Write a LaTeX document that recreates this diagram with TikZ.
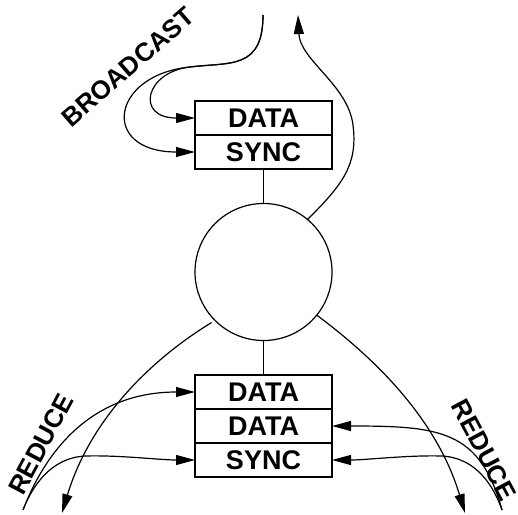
\documentclass[tikz,border=0pt]{standalone}
\usepackage{fontspec}
\setmainfont{Liberation Sans}
\usetikzlibrary{arrows.meta,positioning}
\tikzset{
  net/cell/.style={draw, line width=1.2pt, outer sep=0pt, inner sep=0pt, minimum width=137pt, minimum height=34pt, font=\fontsize{27}{30}\selectfont\bfseries},
  net/hub/.style={draw, circle, line width=1.2pt, outer sep=0pt, inner sep=0pt, minimum size=137pt},
  net/line/.style={line width=1.2pt},
  net/flow/.style={line width=1.2pt, -{Triangle[length=19pt,width=10pt]}},
  net/tag/.style={font=\fontsize{26}{30}\selectfont\bfseries, inner sep=0pt}
}

\begin{document}
\begin{tikzpicture}[x=1pt, y=-1pt]
\useasboundingbox (0,0) rectangle (518,514);
\node[net/cell] (bdata) at (263.5,118) {DATA};
\node[net/cell, below=0pt of bdata] (bsync) {SYNC};
\node[net/hub] (hub) at (263.5,272) {};
\node[net/cell] (rdata) at (263.5,392) {DATA};
\node[net/cell, below=0pt of rdata] (rdata2) {DATA};
\node[net/cell, below=0pt of rdata2] (rsync) {SYNC};
\node[net/tag, rotate=41] (btag) at (128,67) {BROADCAST};
\node[net/tag, rotate=62] (ltag) at (41,444) {REDUCE};
\node[net/tag, rotate=-62] (rtag) at (484,450) {REDUCE};
\coordinate (bin) at (263,15);
\coordinate (bsplit) at (190,67);
\coordinate (bout) at (298,15);
\coordinate (lin) at (23,510);
\coordinate (lout) at (62,513);
\coordinate (rin) at (502,510);
\coordinate (rout) at (465,513);
\draw[net/line] (bsync.south) -- (hub.north);
\draw[net/line] (hub.south) -- (rdata.north);
\draw[net/flow] (bin) .. controls +(0,55) and +(40,-5) .. (bsplit) .. controls +(-45,5) and +(-60,0) .. (bdata.west);
\draw[net/flow] (bin) .. controls +(0,55) and +(40,-5) .. (bsplit) .. controls +(-80,8) and +(-95,0) .. (bsync.west);
\draw[net/flow] (hub.50) .. controls +(35,-35) and +(5,40) .. (353,125) .. controls +(-5,-40) and +(2,45) .. (bout);
\draw[net/flow, shorten <=4pt] (hub.225) .. controls (150,360) and (90,420) .. (lout);
\draw[net/flow] (hub.321) .. controls (377,360) and (437,420) .. (rout);
\draw[net/flow] (lin) .. controls (50,440) and (100,392) .. (rdata.west);
\draw[net/flow] (lin) .. controls (32,487) and (50,458) .. (85,456) .. controls (120,455) and (160,460) .. (rsync.west);
\draw[net/flow] (rin) .. controls (480,430) and (440,426) .. (rdata2.east);
\draw[net/flow] (rin) .. controls (494,487) and (477,458) .. (442,456) .. controls (407,455) and (367,460) .. (rsync.east);
\end{tikzpicture}
\end{document}
